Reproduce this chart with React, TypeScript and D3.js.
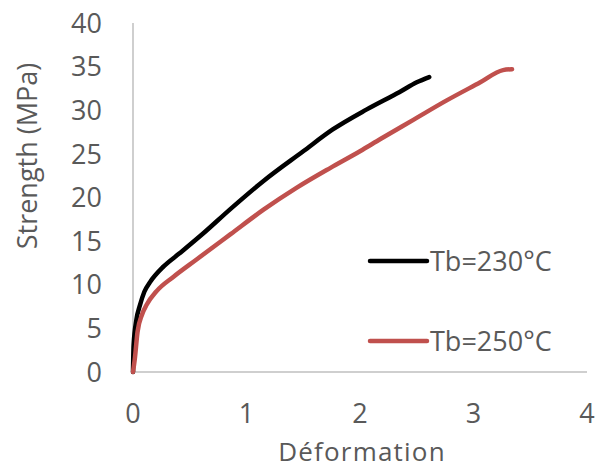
import { scaleLinear, line, curveMonotoneX, range } from 'd3'

const width = 595,
      height = 470,
      margin = { top: 23, right: 8, bottom: 98, left: 133 },
      innerWidth = width - margin.left - margin.right,
      innerHeight = height - margin.top - margin.bottom

// strain / stress pairs
const tb230: [number, number][] = [
  [0, 0], [0.005, 3], [0.03, 6], [0.06, 7.6], [0.1, 9.2], [0.15, 10.3],
  [0.27, 12.1], [0.41, 13.6], [0.62, 15.9], [0.86, 18.7], [1.15, 21.9],
  [1.5, 25.3], [1.76, 27.8], [2.06, 30.1], [2.35, 32.1], [2.5, 33.2], [2.61, 33.8]
]
const tb250: [number, number][] = [
  [0, 0], [0.015, 1.4], [0.04, 4.6], [0.08, 6.6], [0.12, 7.7], [0.21, 9.3],
  [0.355, 10.9], [0.56, 12.9], [0.86, 15.8], [1.15, 18.6], [1.44, 21.1],
  [1.74, 23.4], [2.0, 25.3], [2.18, 26.7], [2.47, 28.9], [2.76, 31.1],
  [3.06, 33.2], [3.26, 34.6], [3.34, 34.7]
]

const seriesNames = ['Tb=230°C', 'Tb=250°C']
const seriesColors = ['#000000', '#C0504D']
const xTicks = range(0, 5)          // 0..4
const yTicks = range(0, 45, 5)      // 0..40

const font = '"Open Sans", sans-serif',
      textColor = '#595959',
      fontSize = 27

export default function App() {
  const x = scaleLinear().domain([0, 4]).range([0, innerWidth])
  const y = scaleLinear().domain([0, 40]).range([innerHeight, 0])

  const path = line<[number, number]>()
    .x(d => x(d[0]))
    .y(d => y(d[1]))
    .curve(curveMonotoneX)

  const series = [tb230, tb250]

  return (
    <svg width={width} height={height}
         style={{ position: 'absolute', left: 0, top: 0, background: '#fff' }}
         fontFamily={font} fill={textColor}>
      <g transform={`translate(${margin.left}, ${margin.top})`}>
        {/* axes */}
        <line x1={0} x2={0} y1={0} y2={innerHeight} stroke='#BFBFBF' strokeWidth={1.5} />
        <line x1={0} x2={innerWidth} y1={innerHeight} y2={innerHeight} stroke='#BFBFBF' strokeWidth={1.5} />

        {yTicks.map(t => (
          <text key={t} x={-31} y={y(t)} dy='0.36em' textAnchor='end' fontSize={fontSize}>{t}</text>
        ))}
        {xTicks.map(t => (
          <text key={t} x={x(t)} y={innerHeight + 51} textAnchor='middle' fontSize={fontSize}>{t}</text>
        ))}

        {series.map((s, i) => (
          <path key={i} d={path(s) ?? ''} fill='none' stroke={seriesColors[i]}
                strokeWidth={4.5} strokeLinecap='round' strokeLinejoin='round' />
        ))}
      </g>

      {/* axis titles */}
      <text x={362} y={461} textAnchor='middle' fontSize={26} letterSpacing={1.2}>Déformation</text>
      <text transform='translate(37, 156) rotate(-90)' textAnchor='middle' fontSize={fontSize}>Strength (MPa)</text>

      {/* legend */}
      {seriesNames.map((n, i) => (
        <g key={n} transform={`translate(370, ${261 + i * 80})`}>
          <line x1={0} x2={57} y1={0} y2={0} stroke={seriesColors[i]} strokeWidth={4.5} strokeLinecap='round' />
          <text x={60} y={0} dy='0.36em' fontSize={fontSize}>{n}</text>
        </g>
      ))}
    </svg>
  )
}
